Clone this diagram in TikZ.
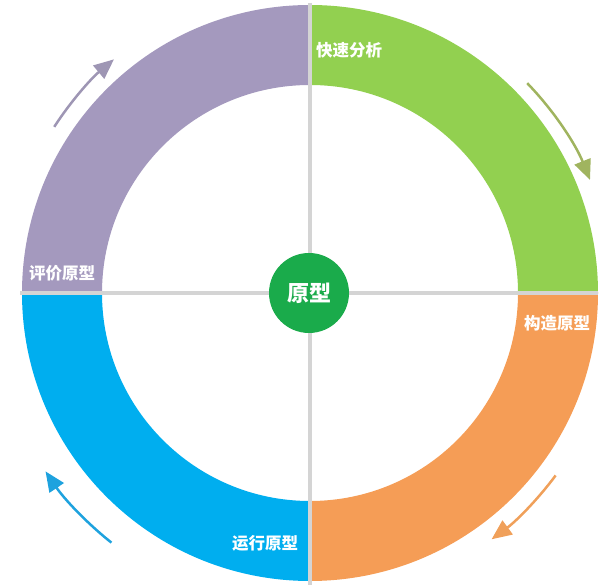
\documentclass[tikz,border=0pt]{standalone}
\usepackage{fontspec}
\newfontfamily\cjk{Noto Sans CJK SC}
\usetikzlibrary{arrows.meta}
\usetikzlibrary{calc}
\definecolor{ringpurple}{RGB}{164,153,190}
\definecolor{ringgreen}{RGB}{146,208,80}
\definecolor{ringorange}{RGB}{245,157,86}
\definecolor{ringblue}{RGB}{0,174,239}
\definecolor{arrowpurple}{RGB}{158,150,180}
\definecolor{arrowgreen}{RGB}{160,180,95}
\definecolor{arroworange}{RGB}{240,160,90}
\definecolor{arrowblue}{RGB}{30,162,222}
\definecolor{centergreen}{RGB}{26,171,75}
\definecolor{crossgray}{RGB}{212,212,212}
\tikzstyle{quadlabel}=[text=white,inner sep=0pt,font=\cjk\bfseries\fontsize{16.5}{16.5}\selectfont]
\tikzstyle{crossline}=[draw=crossgray,line width=4pt]
\tikzstyle{cyclearrow}=[-{Triangle[length=20pt,width=17pt]},line width=2.5pt]
\tikzstyle{centerdisk}=[circle,fill=centergreen,minimum size=80pt,inner sep=0pt,text=white,font=\cjk\bfseries\fontsize{22}{22}\selectfont]

\begin{document}
\begin{tikzpicture}[x=1pt,y=1pt]
  \useasboundingbox (0,0) rectangle (608,586);
  \coordinate (c) at (310,293);
  % four quarters of the ring
  \fill[ringpurple] ($(c)+(180:288)$) arc (180:90:288) -- ($(c)+(90:208)$) arc (90:180:208) -- cycle;
  \fill[ringgreen] ($(c)+(90:288)$) arc (90:0:288) -- ($(c)+(0:208)$) arc (0:90:208) -- cycle;
  \fill[ringorange] ($(c)+(0:288)$) arc (0:-90:288) -- ($(c)+(-90:208)$) arc (-90:0:208) -- cycle;
  \fill[ringblue] ($(c)+(-90:288)$) arc (-90:-180:288) -- ($(c)+(180:208)$) arc (180:270:208) -- cycle;

  \coordinate (crossW) at ($(c)+(-290,0)$);
  \coordinate (crossE) at ($(c)+(288,0)$);
  \coordinate (crossN) at ($(c)+(0,290)$);
  \coordinate (crossS) at ($(c)+(0,-292)$);
  \draw[crossline] (crossW) -- (crossE);
  \draw[crossline] (crossN) -- (crossS);

  \node[centerdisk] (proto) at (309,293) {原型};

  \node[quadlabel] (analyse) at (349,536) {快速分析};
  \node[quadlabel] (build) at (557,263) {构造原型};
  \node[quadlabel] (run) at (265,43) {运行原型};
  \node[quadlabel] (judge) at (62,313) {评价原型};

  % arrows round the ring
  \draw[cyclearrow,arrowpurple] ($(c)+(147:305)$) arc (147:130:305);
  \draw[cyclearrow,arrowgreen] ($(c)+(44:302)$) arc (44:22:302);
  \draw[cyclearrow,arroworange] ($(c)+(-36.6:306)$) arc (-36.6:-53.6:306);
  \draw[cyclearrow,arrowblue] ($(c)+(231.5:319)$) arc (231.5:214:319);
\end{tikzpicture}
\end{document}
